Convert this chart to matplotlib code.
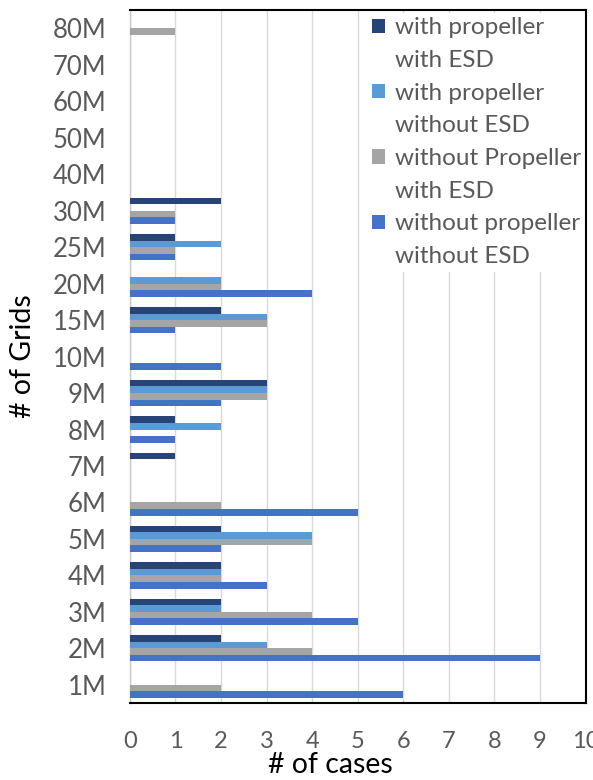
import matplotlib
matplotlib.use("Agg")
import matplotlib.pyplot as plt
from matplotlib.patches import Patch
import numpy as np

plt.rcParams["font.family"] = ["Lato", "DejaVu Sans"]

GRIDS = ["1M", "2M", "3M", "4M", "5M", "6M", "7M", "8M", "9M", "10M",
         "15M", "20M", "25M", "30M", "40M", "50M", "60M", "70M", "80M"]

PROP_ESD = [0, 2, 2, 2, 2, 0, 1, 1, 3, 0, 2, 0, 1, 2, 0, 0, 0, 0, 0]
PROP_NO_ESD = [0, 3, 2, 2, 4, 0, 0, 2, 3, 0, 3, 2, 2, 0, 0, 0, 0, 0, 0]
NOPROP_ESD = [2, 4, 4, 2, 4, 2, 0, 0, 3, 0, 3, 2, 1, 1, 0, 0, 0, 0, 1]
NOPROP_NO_ESD = [6, 9, 5, 3, 2, 5, 0, 1, 2, 2, 1, 4, 1, 1, 0, 0, 0, 0, 0]

SERIES = [
    (("with propeller", "with ESD"), PROP_ESD, "#264478"),
    (("with propeller", "without ESD"), PROP_NO_ESD, "#5B9BD5"),
    (("without Propeller", "with ESD"), NOPROP_ESD, "#A5A5A5"),
    (("without propeller", "without ESD"), NOPROP_NO_ESD, "#4472C4"),
]

fig = plt.figure(figsize=(5.93, 7.8), dpi=100)
ax = fig.add_axes([0.219, 0.0987, 0.7685, 0.8883])

y = np.arange(len(GRIDS))
h = 0.18
offsets = [1.5 * h, 0.5 * h, -0.5 * h, -1.5 * h]
handles, labels = [], []
for (label, vals, color), off in zip(SERIES, offsets):
    bars = ax.barh(y + off, vals, height=h, color=color, zorder=3)
    # two-line legend entries: swatch on the first line only
    handles += [bars, Patch(facecolor="none", edgecolor="none")]
    labels += list(label)

ax.set_xlim(0, 10)
ax.set_ylim(-0.5, len(GRIDS) - 0.5)
ax.set_xticks(range(0, 11))
ax.set_yticks(y)
ax.set_yticklabels(GRIDS)
ax.tick_params(axis="x", length=0, pad=20, labelsize=17, labelcolor="#595959")
ax.tick_params(axis="y", length=0, pad=17, labelsize=18.5, labelcolor="#595959")
ax.grid(axis="x", color="#D9D9D9", linewidth=1.0, zorder=0)

for side in ("top", "right", "bottom"):
    ax.spines[side].set_color("black")
    ax.spines[side].set_linewidth(1.5)
    ax.spines[side].set_zorder(6)
ax.spines["left"].set_color("#C8C8C8")
ax.spines["left"].set_linewidth(1.0)

ax.set_xlabel("# of cases", fontsize=20.5)
ax.xaxis.set_label_coords(0.44, -0.071)
ax.set_ylabel("# of Grids", fontsize=20.5)
ax.yaxis.set_label_coords(-0.207, 0.5)

leg = ax.legend(handles, labels, loc="upper left", bbox_to_anchor=(0.515, 1.0),
                borderaxespad=0.1, fontsize=17.5, frameon=True, fancybox=False,
                framealpha=1, edgecolor="none", facecolor="white",
                handlelength=0.55, handleheight=0.55, handletextpad=0.4,
                labelspacing=0.48, borderpad=0.2)
leg.set_zorder(5)
for t in leg.get_texts():
    t.set_color("#595959")

fig.savefig("out.png", dpi=100)
